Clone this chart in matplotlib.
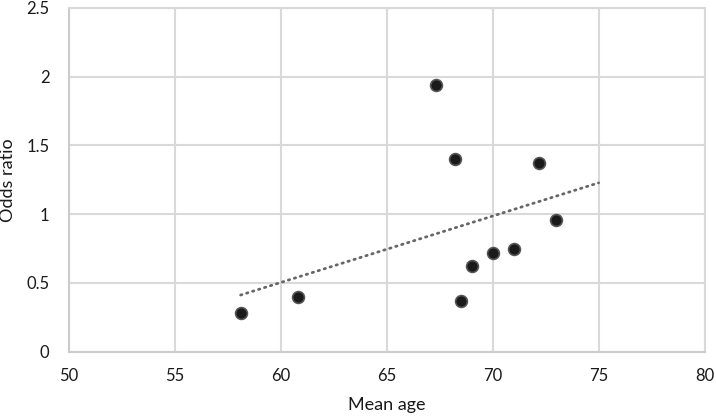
import numpy as np
import matplotlib
matplotlib.use('Agg')
import matplotlib.pyplot as plt
from matplotlib.ticker import FuncFormatter

# mean age vs odds ratio
mean_age = [58.1, 60.8, 67.3, 68.2, 72.2, 73.0, 71.0, 70.0, 69.0, 68.5]
odds_ratio = [0.28, 0.40, 1.94, 1.40, 1.37, 0.96, 0.75, 0.72, 0.62, 0.37]
x_ticks = [50, 55, 60, 65, 70, 75, 80]
y_ticks = [0, 0.5, 1, 1.5, 2, 2.5]
trend_range = [58.1, 75]

plt.rcParams['font.family'] = ['Lato', 'DejaVu Sans']

fig = plt.figure(figsize=(7.16, 4.2), dpi=100)
ax = fig.add_axes([0.0964, 0.1626, 0.8876, 0.8184])

grid_col = '#d9d9d9'

# linear trendline (least squares, like the spreadsheet one)
slope, icpt = np.polyfit(mean_age, odds_ratio, 1)
tx = np.array(trend_range)
ax.plot(tx, slope * tx + icpt, linestyle=(0, (0.5, 1.75)), color='#666666',
        linewidth=2.0, dash_capstyle='round', zorder=2)

ax.plot(mean_age, odds_ratio, 'o', markersize=8.5, color='#1a1a1a',
        markeredgecolor='#555555', markeredgewidth=1.2, zorder=3)

ax.set_xlim(50, 80)
ax.set_ylim(0, 2.5)
ax.set_xticks(x_ticks)
ax.set_yticks(y_ticks)
ax.yaxis.set_major_formatter(FuncFormatter(lambda v, p: f'{v:g}'))
ax.grid(True, color=grid_col, linewidth=1.5)
ax.set_axisbelow(True)
for s in ax.spines.values():
    s.set_color(grid_col)
    s.set_linewidth(1.5)
ax.spines['bottom'].set_color('#cccccc')
ax.spines['left'].set_color('#cccccc')
ax.tick_params(length=0, labelsize=12, colors='#1a1a1a')
ax.tick_params(axis='x', pad=12)
ax.tick_params(axis='y', pad=14)

ax.set_xlabel('Mean age', fontsize=13, color='#1a1a1a')
ax.set_ylabel('Odds ratio', fontsize=13, color='#1a1a1a')
ax.xaxis.set_label_coords(0.5, -0.132)
ax.yaxis.set_label_coords(-0.083, 0.5)

fig.savefig('out.png', dpi=100)
